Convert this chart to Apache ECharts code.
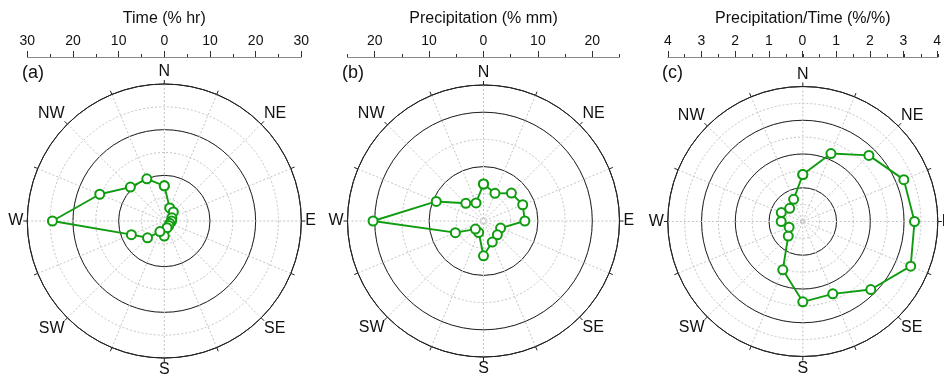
<!DOCTYPE html>
<html>
<head>
<meta charset="utf-8">
<script src="https://cdn.jsdelivr.net/npm/echarts@6/dist/echarts.min.js"></script>
<style>
html,body{margin:0;padding:0;background:#fff;}
#chart{width:944px;height:376px;}
</style>
</head>
<body>
<div id="chart"></div>
<script>
// ---- Data ----
const directions = ['N','NNE','NE','ENE','E','ESE','SE','SSE','S','SSW','SW','WSW','W','WNW','NW','NNW'];
const timeValues = [7.7, 3.1, 2.8, 1.8, 1.6, 1.3, 1.4, 1.6, 3.3, 2.5, 5.2, 7.8, 24.5, 15.3, 10.5, 10.0];
const precipValues = [6.8, 5.5, 7.25, 7.8, 7.6, 3.4, 3.6, 4.2, 6.4, 2.3, 2.1, 5.6, 20.3, 9.4, 4.6, 3.6];
const ratioValues = [1.39, 2.18, 2.77, 3.24, 3.31, 3.46, 2.85, 2.32, 2.38, 1.55, 0.61, 0.44, 0.64, 0.69, 0.55, 0.71];
const axisTitles = ['Time (% hr)', 'Precipitation (% mm)', 'Precipitation/Time (%/%)'];
const panelLetters = ['(a)', '(b)', '(c)'];
const axisMax = [30, 25, 4];
const majorStep = [10, 10, 1];
const minorStep = [5, 5, 0.5];

// ---- Layout ----
const centers = [[164.3, 221], [483.5, 221], [802.8, 221.5]];
const radii = [137, 136, 135];
const letterPos = [[22, 73], [342, 73], [662, 73]];
const axisY = 56;
const FONT = 'Liberation Sans, Arial, sans-serif';
const green = '#109c10';
const sector = 360 / directions.length;

const panels = [timeValues, precipValues, ratioValues];

const polar = [], angleAxis = [], radiusAxis = [], series = [];
const grid = [], xAxis = [], yAxis = [];
const graphic = [];

function dirLabel(v) {
  if (v >= 360) return '';
  const k = Math.round(v / sector);
  return (k % 2 === 0) ? directions[k] : '';
}

panels.forEach((vals, i) => {
  const [cx, cy] = centers[i];
  const R = radii[i];
  const M = axisMax[i];
  // dashed-circle polar (minor rings)
  polar.push({center: [cx, cy], radius: R});
  angleAxis.push({
    polarIndex: 2 * i, type: 'value', min: 0, max: 360, interval: sector,
    startAngle: 90, clockwise: true,
    axisLine: {show: false}, axisTick: {show: false}, axisLabel: {show: false}, splitLine: {show: false}
  });
  radiusAxis.push({
    polarIndex: 2 * i, type: 'value', min: 0, max: M, interval: minorStep[i],
    axisLine: {show: false}, axisTick: {show: false}, axisLabel: {show: false},
    splitLine: {show: true, lineStyle: {color: '#c4c4c4', type: [2, 2], width: 1}}
  });
  // solid polar (major rings, outer circle, spokes, labels)
  polar.push({center: [cx, cy], radius: R});
  angleAxis.push({
    polarIndex: 2 * i + 1, type: 'value', min: 0, max: 360, interval: sector,
    startAngle: 90, clockwise: true, z: 3,
    axisLine: {show: true, lineStyle: {color: '#222', width: 1}},
    axisTick: {show: true, length: 4, lineStyle: {color: '#222'}},
    axisLabel: {show: true, margin: 4, fontSize: 16, color: '#111', fontFamily: FONT, formatter: dirLabel},
    splitLine: {show: true, lineStyle: {color: '#c4c4c4', type: [2, 2], width: 1}}
  });
  radiusAxis.push({
    polarIndex: 2 * i + 1, type: 'value', min: 0, max: M, interval: majorStep[i], z: 3,
    axisLine: {show: false}, axisTick: {show: false}, axisLabel: {show: false},
    splitLine: {show: true, lineStyle: {color: '#222', width: 1}}
  });
  const data = vals.map((v, k) => [v, k * sector]);
  data.push([vals[0], 360]);
  series.push({
    type: 'line', coordinateSystem: 'polar', polarIndex: 2 * i + 1,
    data: data, symbol: 'emptyCircle', symbolSize: 9, z: 10,
    lineStyle: {color: green, width: 1.9},
    itemStyle: {color: green, borderColor: green, borderWidth: 1.5},
    animation: false
  });

  // top linear axes
  grid.push({left: cx - R, width: 2 * R, top: axisY, height: 1});
  xAxis.push({
    gridIndex: 2 * i, type: 'value', position: 'top', min: -M, max: M, interval: minorStep[i],
    axisLine: {show: true, lineStyle: {color: '#8a8a8a', width: 1}},
    axisTick: {show: true, length: 3, lineStyle: {color: '#333'}},
    axisLabel: {show: false}, splitLine: {show: false}
  });
  yAxis.push({gridIndex: 2 * i, show: false});
  const mm = Math.floor(M / majorStep[i] + 1e-9) * majorStep[i];
  grid.push({left: cx - R * mm / M, width: 2 * R * mm / M, top: axisY, height: 1});
  xAxis.push({
    gridIndex: 2 * i + 1, type: 'value', position: 'top', min: -mm, max: mm, interval: majorStep[i],
    axisLine: {show: false},
    axisTick: {show: true, length: 6, lineStyle: {color: '#333'}},
    axisLabel: {show: true, fontSize: 14, color: '#111', fontFamily: FONT, margin: 8,
      formatter: v => String(Math.abs(v))},
    splitLine: {show: false}
  });
  yAxis.push({gridIndex: 2 * i + 1, show: false});

  graphic.push({
    type: 'text', x: cx, y: 11,
    style: {text: axisTitles[i], font: '16px ' + FONT, fill: '#111', align: 'center'}
  });
  graphic.push({
    type: 'text', x: letterPos[i][0], y: letterPos[i][1],
    style: {text: panelLetters[i], font: '18px ' + FONT, fill: '#111', verticalAlign: 'middle'}
  });
});

const chart = echarts.init(document.getElementById('chart'), null, {renderer: 'canvas'});
chart.setOption({
  animation: false,
  backgroundColor: '#fff',
  polar, angleAxis, radiusAxis, grid, xAxis, yAxis, series, graphic
});
</script>
</body>
</html>
